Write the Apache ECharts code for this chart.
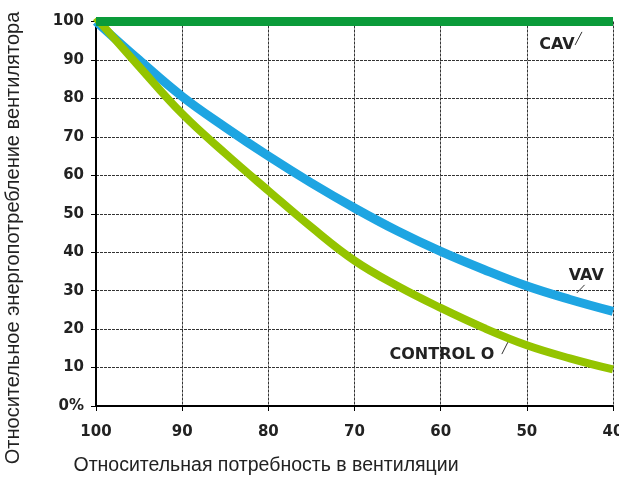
<!DOCTYPE html>
<html>
<head>
<meta charset="utf-8">
<script src="https://cdn.jsdelivr.net/npm/echarts@6/dist/echarts.min.js"></script>
<style>
html,body{margin:0;padding:0;background:#fff;}
#chart{width:619px;height:482px;}
</style>
</head>
<body>
<div id="chart"></div>
<script>
// Relative ventilation demand (%), plotted high -> low
var demand = [100, 95, 90, 85, 80, 75, 70, 65, 60, 55, 50, 45, 40];
// Relative fan energy consumption (%)
var cav = [100, 100, 100, 100, 100, 100, 100, 100, 100, 100, 100, 100, 100];
var vav = [100, 90, 80.5, 72.5, 65, 58, 51.5, 45.5, 40.2, 35.5, 31.2, 27.7, 24.6];
var controlO = [101, 88.3, 76, 65.7, 56, 46.5, 37.8, 31.2, 25.5, 20.3, 15.8, 12.4, 9.5];
var yTickLabels = ['0%', '10', '20', '30', '40', '50', '60', '70', '80', '90', '100'];
var xTickLabels = ['40', '50', '60', '70', '80', '90', '100'];
var yTitle = 'Относительное энергопотребление вентилятора';
var xTitle = 'Относительная потребность в вентиляции';
// Curve labels (data coordinates) and their leader strokes
var labelCAV = {name: 'CAV', at: [46.5, 93.9], leader: [[44.4, 93.9], [43.6, 97.3]]};
var labelVAV = {name: 'VAV', at: [43.1, 33.8], leader: [[44.2, 29.4], [43.3, 31.5]]};
var labelCO = {name: 'CONTROL O', at: [59.85, 13.3], leader: [[52.9, 13.5], [52.2, 16.6]]};

function pairs(ys) { return demand.map(function (d, i) { return [d, ys[i]]; }); }
var labelFont = {fontFamily: 'DejaVu Sans', fontWeight: 'bold', fontSize: 16, color: '#222'};
function annot(lbl) {
  return {
    markPoint: {
      silent: true, symbol: 'rect', symbolSize: 1,
      itemStyle: {color: 'rgba(0,0,0,0)'},
      data: [{name: lbl.name, coord: lbl.at}],
      label: Object.assign({show: true, position: 'inside', formatter: lbl.name}, labelFont)
    },
    markLine: {
      silent: true, symbol: 'none', animation: false,
      lineStyle: {color: '#333', width: 1, type: 'solid'},
      label: {show: false},
      data: [[{coord: lbl.leader[0]}, {coord: lbl.leader[1]}]]
    }
  };
}

var chart = echarts.init(document.getElementById('chart'), null, {renderer: 'canvas'});
var tickFont = {fontFamily: 'DejaVu Sans', fontWeight: 'bold', fontSize: 15, color: '#222'};
var gridLine = {show: true, lineStyle: {color: '#333', width: 1, type: [3, 1]}};
chart.setOption({
  animation: false,
  backgroundColor: '#fff',
  grid: {left: 96, right: 6, top: 21.5, bottom: 76, containLabel: false, outerBoundsMode: 'none'},
  xAxis: {
    type: 'value', inverse: true, min: 40, max: 100, interval: 10,
    axisLine: {show: true, onZero: false, lineStyle: {color: '#000', width: 2}},
    axisTick: {show: true, length: 5, lineStyle: {color: '#000'}},
    axisLabel: Object.assign({margin: 19, showMaxLabel: true, showMinLabel: true,
      formatter: function (v) { return xTickLabels[xTickLabels.indexOf(String(v))] || ''; }}, tickFont),
    splitLine: gridLine
  },
  yAxis: {
    type: 'value', min: 0, max: 100, interval: 10,
    axisLine: {show: true, lineStyle: {color: '#000', width: 2}},
    axisTick: {show: true, length: 5, lineStyle: {color: '#000'}},
    axisLabel: Object.assign({margin: 12,
      formatter: function (v) { return yTickLabels[Math.round(v / 10)]; }}, tickFont),
    splitLine: gridLine
  },
  graphic: [
    {type: 'text', x: 266, y: 466, style: {text: xTitle, font: '19.5px "Liberation Sans", Arial, sans-serif', fill: '#222', textAlign: 'center', textVerticalAlign: 'middle'}},
    {type: 'text', x: 13, y: 238, rotation: Math.PI / 2, style: {text: yTitle, font: '20px "Liberation Sans", Arial, sans-serif', fill: '#222', textAlign: 'center', textVerticalAlign: 'middle'}}
  ],
  series: [
    Object.assign({type: 'line', name: 'CONTROL O', data: pairs(controlO), smooth: 0.4, symbol: 'none', z: 3,
      lineStyle: {color: '#94c400', width: 8}}, annot(labelCO)),
    Object.assign({type: 'line', name: 'VAV', data: pairs(vav), smooth: 0.4, symbol: 'none', z: 2,
      lineStyle: {color: '#1ea5e2', width: 9}}, annot(labelVAV)),
    Object.assign({type: 'line', name: 'CAV', data: pairs(cav), symbol: 'none', z: 4,
      lineStyle: {color: '#0b9b3a', width: 9}}, annot(labelCAV))
  ]
});
</script>
</body>
</html>
